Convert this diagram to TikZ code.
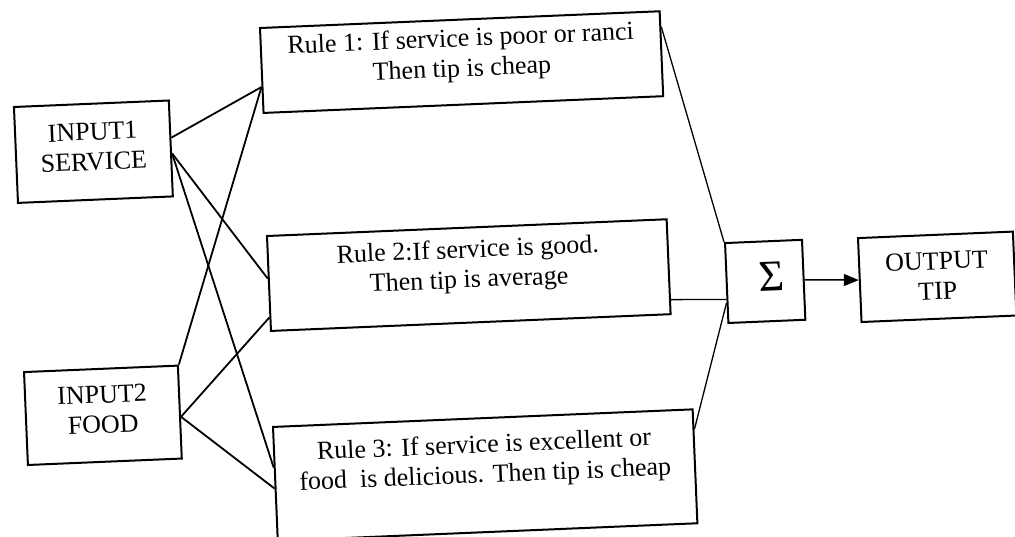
\documentclass[tikz,border=0pt]{standalone}
\usepackage{fontspec}
\setmainfont{Liberation Serif}
\usetikzlibrary{calc,arrows.meta}
\begin{document}
\begin{tikzpicture}[x=1pt,y=-1pt,
  box/.style={draw=black, line width=2pt, rotate=2.4, inner sep=0pt},
  txt/.style={rotate=2.4, align=center, inner sep=0pt,
    font=\fontsize{26}{30}\selectfont},
  feed/.style={line width=1.8pt},
  sumline/.style={line width=1.3pt},
]
\useasboundingbox (0,0) rectangle (1015,536);

% input boxes
\node[box, minimum width=155pt, minimum height=96pt] (in1) at (93.4,151.7) {};
\node[txt] (in1t) at ($(in1.north)!0.45!(in1.south)$) {INPUT1\\SERVICE};
\node[box, minimum width=154pt, minimum height=93pt] (in2) at (102.9,415.3) {};
\node[txt] (in2t) at ($(in2.north)!0.44!(in2.south)$) {INPUT2\\FOOD};

% rule boxes
\node[box, minimum width=400pt, minimum height=85pt] (r1) at (461.6,62.1) {};
\node[txt] (r1t) at ($(r1.north)!0.42!(r1.south)$)
  {Rule 1: If service is poor or ranci\\Then tip is cheap};
\node[box, minimum width=400pt, minimum height=95pt] (r2) at (468.8,275.1) {};
\node[txt] (r2t) at ($(r2.north)!0.41!(r2.south)$)
  {Rule 2:If service is good.\\Then tip is average};
\node[box, minimum width=420pt, minimum height=114pt] (r3) at (485.2,475.1) {};
\node[txt] (r3t) at ($(r3.north)!0.38!(r3.south)$)
  {Rule 3: If service is excellent or\\food\ \ is delicious. Then tip is cheap};

% summation and output
\node[box, minimum width=77pt, minimum height=80pt] (sig) at (765.2,281.4) {};
\node[txt, font=\fontsize{44}{44}\selectfont] (sigt) at ($(sig.center)+(6,-5)$) {Σ};
\node[box, minimum width=155pt, minimum height=84pt] (out) at (937.2,276.8) {};
\node[txt] (outt) at ($(out.north)!0.49!(out.south)$) {OUTPUT\\TIP};

% inputs to rules
\draw[feed] ($(in1.north east)!0.39!(in1.south east)$) -- ($(r1.north west)!0.69!(r1.south west)$);
\draw[feed] ($(in1.north east)!0.55!(in1.south east)$) -- ($(r2.north west)!0.45!(r2.south west)$);
\draw[feed] ($(in1.north east)!0.55!(in1.south east)$) -- ($(r3.north west)!0.36!(r3.south west)$);
\draw[feed] (in2.north east) -- ($(r1.north west)!0.69!(r1.south west)$);
\draw[feed] ($(in2.north east)!0.55!(in2.south east)$) -- ($(r2.north west)!0.85!(r2.south west)$);
\draw[feed] ($(in2.north east)!0.55!(in2.south east)$) -- ($(r3.north west)!0.54!(r3.south west)$);

% rules to summation
\draw[sumline] ($(r1.north east)!0.19!(r1.south east)$) -- (sig.north west);
\draw[sumline] ($(r2.north east)!0.84!(r2.south east)$) -- ($(sig.north west)!0.70!(sig.south west)$);
\draw[sumline] ($(r3.north east)!0.18!(r3.south east)$) -- ($(sig.north west)!0.74!(sig.south west)$);

% summation to output
\draw[line width=1.5pt, -{Triangle[length=15pt,width=12pt]}] (sig.east) -- (out.west);
\end{tikzpicture}
\end{document}
